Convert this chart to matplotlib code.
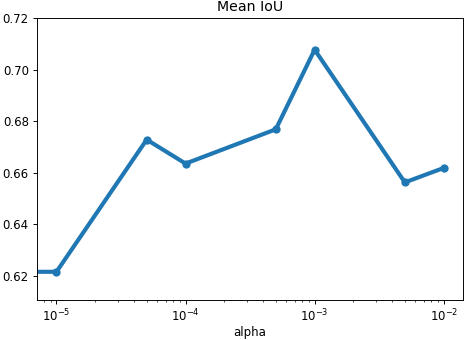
import matplotlib
matplotlib.use('Agg')
import matplotlib.pyplot as plt

# valores de alpha (0 = sem regularização) e mean IoU
alphas = [0, 1e-5, 5e-5, 1e-4, 5e-4, 1e-3, 5e-3, 1e-2]
miou = [0.6215, 0.6215, 0.6728, 0.6635, 0.6768, 0.7077, 0.6562, 0.6618]

DPI = 85
fig = plt.figure(figsize=(464 / DPI, 340 / DPI), dpi=DPI)
ax = fig.add_axes([0.080, 0.118, 0.918, 0.829])
ax.plot(alphas, miou, marker='o', markersize=6, linewidth=3.5, color='#1f77b4')
ax.set_xscale('log')
ax.set_ylim(0.6106, 0.72)
ax.set_xlabel('alpha', labelpad=1)
ax.set_title('Mean IoU')
fig.savefig('out.png', dpi=DPI)
